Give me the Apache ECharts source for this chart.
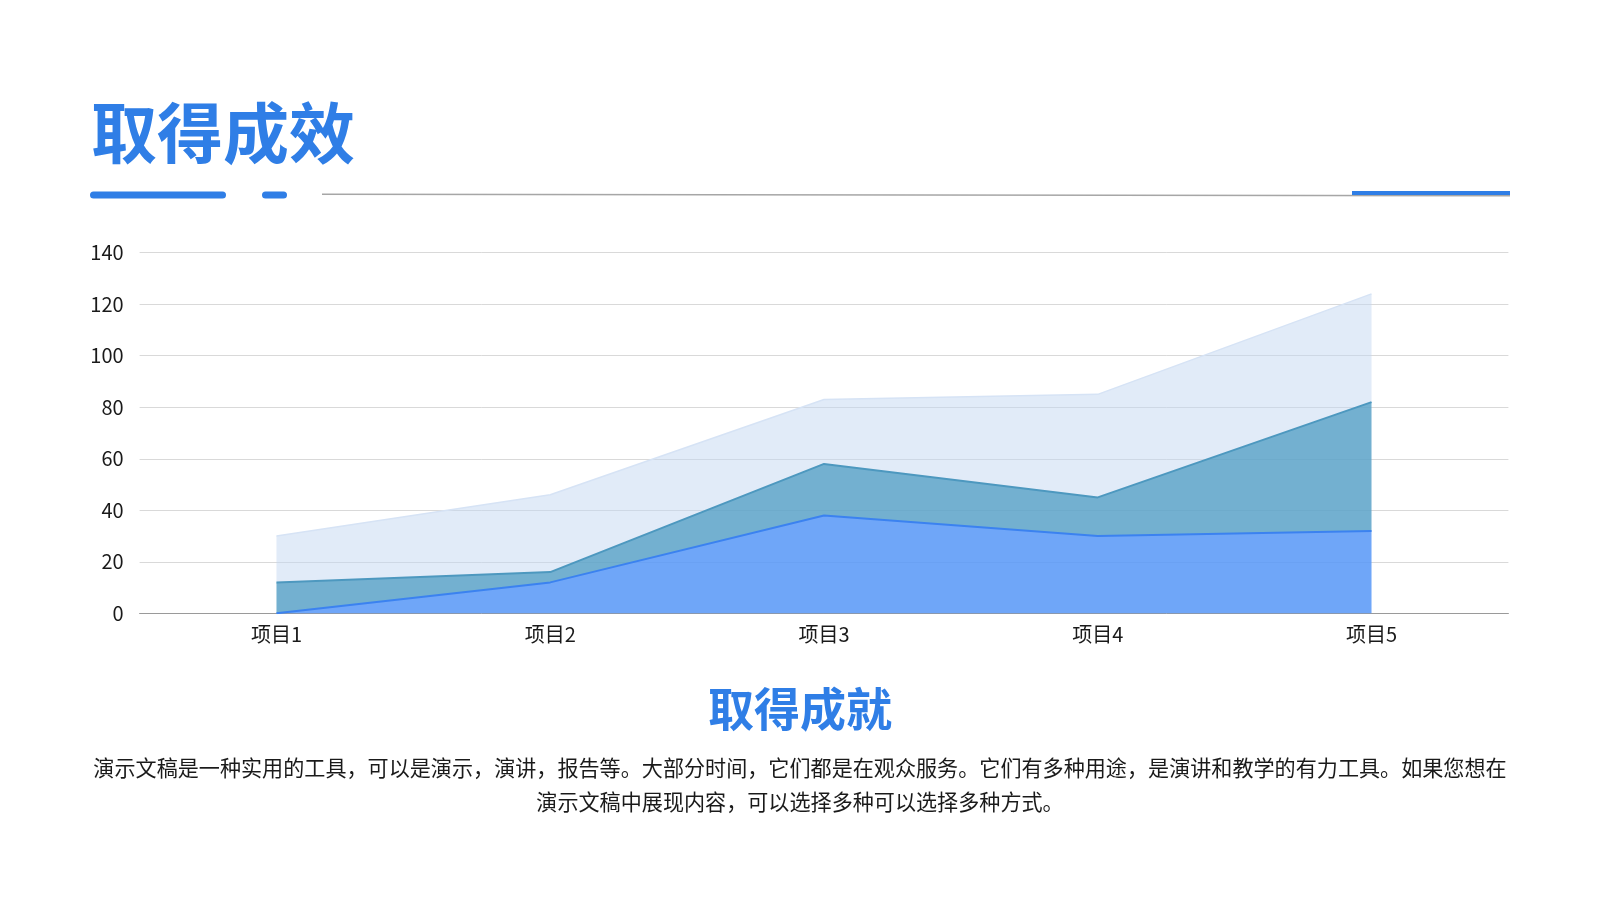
<!DOCTYPE html>
<html>
<head>
<meta charset="utf-8">
<script src="https://cdn.jsdelivr.net/npm/echarts@6/dist/echarts.min.js"></script>
<style>
html,body{margin:0;padding:0;background:#fff;}
#c{width:1600px;height:900px;}
</style>
</head>
<body>
<div id="c"></div>
<script>
const categories = ['项目1', '项目2', '项目3', '项目4', '项目5'];
// stacked series (each value is the increment above the series below)
const seriesA = [0, 12, 38, 30, 32];
const seriesB = [12, 4, 20, 15, 50];
const seriesC = [18, 30, 25, 40, 42];
const yTicks = { min: 0, max: 140, interval: 20 };

const titleText = '取得成效';
const subTitleText = '取得成就';
const paraLine1 = '演示文稿是一种实用的工具，可以是演示，演讲，报告等。大部分时间，它们都是在观众服务。它们有多种用途，是演讲和教学的有力工具。如果您想在';
const paraLine2 = '演示文稿中展现内容，可以选择多种可以选择多种方式。';

const FONT = '"Noto Sans CJK SC", "Noto Sans", sans-serif';
const BLUE = '#2f7ee6';

const chart = echarts.init(document.getElementById('c'));
chart.setOption({
  backgroundColor: '#ffffff',
  animation: false,
  textStyle: { fontFamily: FONT },
  grid: { left: 139.6, right: 91.6, top: 252.7, bottom: 286.7, containLabel: false },
  xAxis: {
    type: 'category',
    data: categories,
    boundaryGap: true,
    axisLine: { show: true, lineStyle: { color: '#9a9a9a', width: 1 } },
    axisTick: { show: false },
    axisLabel: { color: '#1a1a1a', fontSize: 20, margin: 11, fontFamily: FONT }
  },
  yAxis: {
    type: 'value',
    min: yTicks.min, max: yTicks.max, interval: yTicks.interval,
    axisLine: { show: false },
    axisTick: { show: false },
    axisLabel: { color: '#1a1a1a', fontSize: 20, margin: 16, fontFamily: FONT },
    splitLine: { lineStyle: { color: '#d9d9d9', width: 1 } }
  },
  series: [
    {
      name: 'A', type: 'line', stack: 'total', data: seriesA,
      symbol: 'none', z: 3,
      lineStyle: { color: '#3b82f0', width: 2 },
      areaStyle: { color: 'rgba(86,150,247,0.85)', opacity: 1 }
    },
    {
      name: 'B', type: 'line', stack: 'total', data: seriesB,
      symbol: 'none', z: 3,
      lineStyle: { color: '#4d98bf', width: 2 },
      areaStyle: { color: 'rgba(91,162,200,0.85)', opacity: 1 }
    },
    {
      name: 'C', type: 'line', stack: 'total', data: seriesC,
      symbol: 'none', z: 3,
      lineStyle: { color: '#d6e3f5', width: 1.5 },
      areaStyle: { color: 'rgba(196,215,241,0.5)', opacity: 1 }
    }
  ],
  graphic: [
    {
      type: 'text', z: 10, position: [91, 133],
      style: {
        text: titleText, fill: BLUE, font: 'bold 66px ' + FONT,
        textVerticalAlign: 'middle'
      }
    },
    { type: 'rect', shape: { x: 90, y: 191.5, width: 136, height: 7, r: 3.5 }, style: { fill: BLUE } },
    { type: 'rect', shape: { x: 262, y: 191.5, width: 25, height: 7, r: 3.5 }, style: { fill: BLUE } },
    { type: 'line', shape: { x1: 322, y1: 194.3, x2: 1510, y2: 195.8 }, style: { stroke: '#a6a6a6', lineWidth: 1.5 } },
    { type: 'rect', shape: { x: 1352, y: 191, width: 158, height: 4 }, style: { fill: BLUE } },
    {
      type: 'text', z: 10, position: [800, 709],
      style: {
        text: subTitleText, fill: BLUE, font: 'bold 46px ' + FONT,
        textAlign: 'center', textVerticalAlign: 'middle'
      }
    },
    {
      type: 'text', z: 10, position: [800, 767.5],
      style: {
        text: paraLine1, fill: '#1a1a1a', font: '21.1px ' + FONT,
        textAlign: 'center', textVerticalAlign: 'middle'
      }
    },
    {
      type: 'text', z: 10, position: [800, 801.5],
      style: {
        text: paraLine2, fill: '#1a1a1a', font: '21.1px ' + FONT,
        textAlign: 'center', textVerticalAlign: 'middle'
      }
    }
  ]
});
</script>
</body>
</html>
